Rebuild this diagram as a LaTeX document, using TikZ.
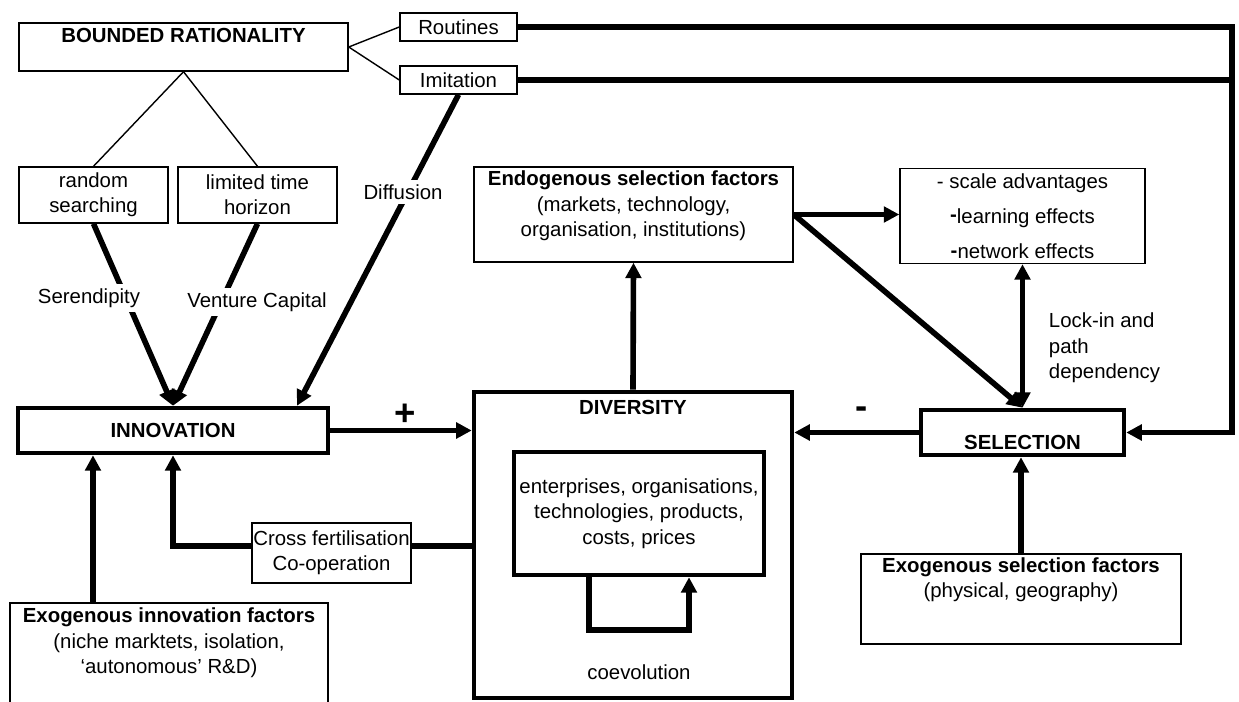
\documentclass[tikz,border=0pt]{standalone}
\usepackage{fontspec}
\setmainfont{Liberation Sans}
\usepackage{tikz}
\usetikzlibrary{arrows.meta}
\usetikzlibrary{calc}

\tikzset{
	box/.style={draw, line width=1pt, inner sep=0pt, align=center},
	bigbox/.style={draw, line width=3.2pt, inner sep=0pt, align=center},
	bold/.style={font=\fontsize{14.5pt}{18pt}\selectfont\bfseries},
	sign/.style={font=\fontsize{26pt}{26pt}\selectfont\bfseries},
	flow/.style={line width=4pt, -{Triangle[length=11pt,width=11pt]}},
	twoway/.style={line width=4pt, {Triangle[length=11pt,width=11pt]}-{Triangle[length=11pt,width=11pt]}},
	bar/.style={line width=4pt},
	link/.style={line width=1pt},
	cut/.style={fill=white},
}

\begin{document}
\begin{tikzpicture}[x=0.025cm, y=-0.025cm, font=\fontsize{14.5pt}{18pt}\selectfont]
		\useasboundingbox (0,0) rectangle (1239,702);
		
		\node[box, minimum width=8.225cm, minimum height=1.2cm] (br) at (183.5,47) {};
		\node[bold] (brtext) at (183.5,35) {BOUNDED RATIONALITY};
		\node[box, minimum width=2.925cm, minimum height=0.7cm] (rout) at (458.5,27) {Routines};
		\node[box, minimum width=2.925cm, minimum height=0.7cm] (imit) at (458.5,80) {Imitation};
		
		\node[box, minimum width=3.725cm, minimum height=1.4cm] (rand) at (93.5,195) {random\\searching};
		\node[box, minimum width=3.975cm, minimum height=1.4cm] (limit) at (257.5,195) {limited time\\horizon};
		
		\node[box, minimum width=7.975cm, minimum height=2.375cm] (endo) at (633.5,214.5) {};
		\node[align=center] (endotext) at (633.5,206) {\textbf{Endogenous selection factors}\\(markets, technology,\\organisation, institutions)};
		\node[box, minimum width=6.125cm, minimum height=2.375cm] (scale) at (1022.5,216) {- scale advantages\\[7pt]\raisebox{1pt}{\textbf{-}}learning effects\\[7pt]\raisebox{1pt}{\textbf{-}}network effects};
		
		\node[bigbox, minimum width=7.75cm, minimum height=1.125cm, bold] (innov) at (173,430.5) {INNOVATION};
		\node[bigbox, minimum width=7.95cm, minimum height=7.65cm] (div) at (633,545) {};
		\node[bold] (divtext) at (633,407) {DIVERSITY};
		\node[bigbox, minimum width=6.25cm, minimum height=3.075cm] (inner) at (639,513.5) {enterprises, organisations,\\technologies, products,\\costs, prices};
		\node (coev) at (639,672) {coevolution};
		\node[bigbox, minimum width=5.075cm, minimum height=1.125cm] (sel) at (1022.5,432.5) {};
		\node[bold] (seltext) at (1022.5,442) {SELECTION};
		
		\node[box, minimum width=3.975cm, minimum height=1.5cm] (cross) at (331.5,553) {Cross fertilisation\\Co-operation};
		\node[box, minimum width=7.95cm, minimum height=2.925cm] (exin) at (169,661.5) {};
		\node[align=center] (exintext) at (169,643) {\textbf{Exogenous innovation factors}\\(niche marktets, isolation,\\‘autonomous’ R\&D)};
		\node[box, minimum width=8cm, minimum height=2.25cm] (exsel) at (1021,599) {};
		\node[align=center] (exseltext) at (1021,580) {\textbf{Exogenous selection factors}\\(physical, geography)};
		
		\node[sign] (plus) at (405,415) {+};
		\node[sign] (minus) at (862,413) {-};
		\node[align=left, anchor=west] (lock) at (1044,348) {Lock-in and\\path\\dependency};
		
		\coordinate (rc) at (1232,27);
		\coordinate (exup) at ([xshift=-1.9cm]exin.north);
		
		\draw[link] (br.east) -- (rout.west);
		\draw[link] (br.east) -- (imit.west);
		\draw[link] (br.south) -- (rand.north);
		\draw[link] (br.south) -- (limit.north);
		
		\draw[flow] (rand.south) -- (innov.north);
		\draw[flow] (limit.south) -- (innov.north);
		\draw[flow] (imit.south) -- ([xshift=3.1cm]innov.north);
		\node[cut] (seren) at (89,298) {Serendipity};
		\node[cut] (vc) at (257,302) {Venture Capital};
		\node[cut] (diff) at (403,192) {Diffusion};
		
		\draw[flow] (innov.east) -- (innov.east -| div.west);
		\draw[flow] (sel.west) -- (sel.west -| div.east);
		\draw[flow] (div.north) -- (endo.south);
		\draw[flow] (endo.east) -- (endo.east -| scale.west);
		\draw[flow] (endo.east) -- (sel.north);
		\draw[twoway] (scale.south) -- (sel.north);
		
		\draw[flow] (rout.east) -- (rc) |- (sel.east);
		\draw[bar] (imit.east) -- (imit.east -| rc);
		
		\draw[flow] (exsel.north) -- (exsel.north |- sel.south);
		\draw[flow] (exup) -- (exup |- innov.south);
		
		\draw[bar] ([yshift=0.175cm]cross.east -| div.west) -- ([yshift=0.175cm]cross.east);
		\draw[flow] ([yshift=0.175cm]cross.west) -| (innov.south);
		
		\draw[flow] ([xshift=-1.25cm]inner.south) -- ++(0,53) -| ([xshift=1.25cm]inner.south);
	\end{tikzpicture}
\end{document}
